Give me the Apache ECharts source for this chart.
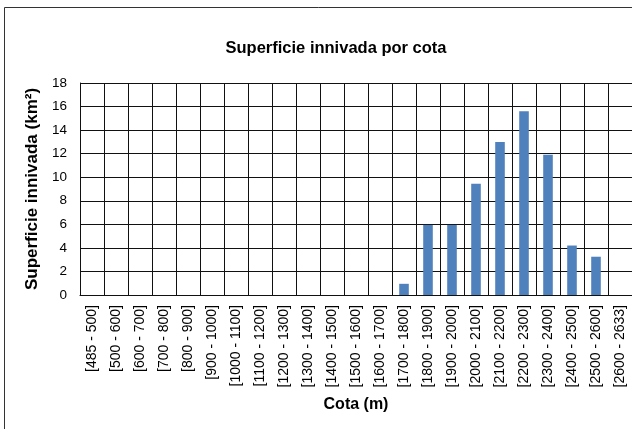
<!DOCTYPE html>
<html>
<head>
<meta charset="utf-8">
<script src="https://cdn.jsdelivr.net/npm/echarts@6/dist/echarts.min.js"></script>
<style>
  html, body { margin: 0; padding: 0; background: #fff; }
  #chart { width: 632px; height: 429px; }
</style>
</head>
<body>
<div id="chart"></div>
<script>
// Datos
const cotas = [
    '[485 - 500]', '[500 - 600]', '[600 - 700]', '[700 - 800]', '[800 - 900]',
    '[900 - 1000]', '[1000 - 1100]', '[1100 - 1200]', '[1200 - 1300]', '[1300 - 1400]',
    '[1400 - 1500]', '[1500 - 1600]', '[1600 - 1700]', '[1700 - 1800]', '[1800 - 1900]',
    '[1900 - 2000]', '[2000 - 2100]', '[2100 - 2200]', '[2200 - 2300]', '[2300 - 2400]',
    '[2400 - 2500]', '[2500 - 2600]', '[2600 - 2633]'
];
const superficie = [
    0, 0, 0, 0, 0, 0, 0, 0, 0, 0, 0, 0, 0,
    0.95, 5.95, 5.95, 9.45, 13.0, 15.6, 11.9, 4.2, 3.25, 0
];
const yTicks = { min: 0, max: 18, interval: 2 };

const chart = echarts.init(document.getElementById('chart'));
const font = '"Liberation Sans", Arial, sans-serif';

chart.setOption({
    animation: false,
    backgroundColor: '#fff',
    title: {
        text: 'Superficie innivada por cota',
        left: 331,
        top: 35,
        textAlign: 'center',
        textStyle: { fontFamily: font, fontSize: 16.5, fontWeight: 'bold', color: '#000' }
    },
    graphic: [{
        // marco del gráfico (recortado a la derecha y abajo)
        type: 'rect',
        shape: { x: 4.5, y: 7.5, width: 800, height: 600 },
        style: { fill: 'none', stroke: '#333', lineWidth: 1 },
        silent: true
    }],
    grid: { left: 80, right: -6, top: 83, bottom: 134 },
    xAxis: {
        type: 'category',
        data: cotas,
        name: 'Cota (m)',
        nameLocation: 'middle',
        nameGap: 102,
        nameTextStyle: { fontFamily: font, fontSize: 16, fontWeight: 'bold', color: '#000' },
        axisLine: { lineStyle: { color: '#111', width: 1 } },
        axisTick: { show: false },
        splitLine: { show: true, interval: 0, lineStyle: { color: '#111', width: 1 } },
        axisLabel: {
            interval: 0,
            rotate: 90,
            margin: 10,
            hideOverlap: false,
            fontFamily: font,
            fontSize: 14,
            color: '#000'
        }
    },
    yAxis: {
        type: 'value',
        min: yTicks.min,
        max: yTicks.max,
        interval: yTicks.interval,
        name: 'Superficie innivada (km²)',
        nameLocation: 'middle',
        nameGap: 33,
        nameTextStyle: { fontFamily: font, fontSize: 17, fontWeight: 'bold', color: '#000' },
        axisLine: { show: true, lineStyle: { color: '#111', width: 1 } },
        axisTick: { show: false },
        splitLine: { show: true, lineStyle: { color: '#111', width: 1 } },
        axisLabel: { margin: 13, fontFamily: font, fontSize: 13.5, color: '#000' }
    },
    series: [{
        type: 'bar',
        data: superficie,
        barWidth: '40%',
        itemStyle: { color: '#4F81BD' }
    }]
});
</script>
</body>
</html>
